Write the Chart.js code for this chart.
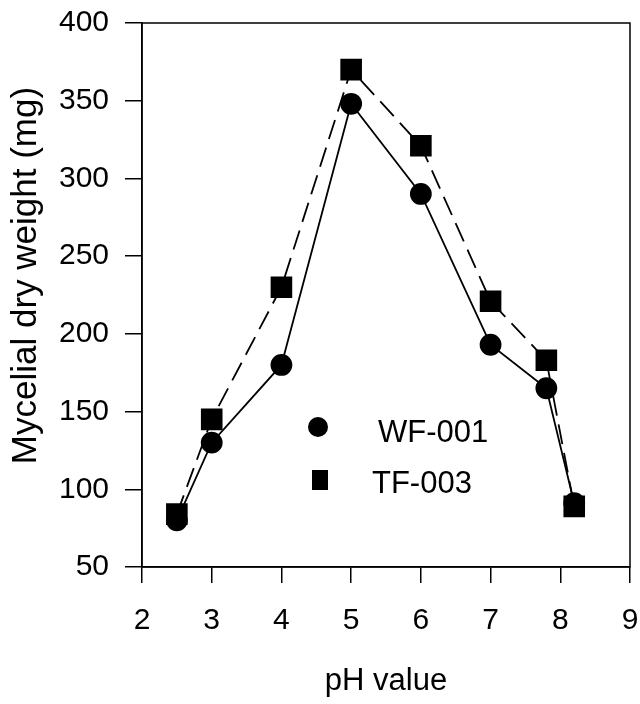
<!DOCTYPE html>
<html>
<head>
<meta charset="utf-8">
<script src="https://cdn.jsdelivr.net/npm/chart.js@4"></script>
<style>
  html, body { margin: 0; padding: 0; background: #fff; }
  #wrap { width: 640px; height: 704px; }
</style>
</head>
<body>
<div id="wrap"><canvas id="chart" width="640" height="704"></canvas></div>
<script>
// pH values and mycelial dry weight (mg)
const phWF = [2.5, 3, 4, 5, 6, 7, 7.8, 8.2];
const weightWF = [80, 130, 180, 348, 290, 193, 165, 91];
const phTF = [2.5, 3, 4, 5, 6, 7, 7.8, 8.2];
const weightTF = [84, 145, 230, 370, 321, 221, 183, 89];
const seriesNames = ['WF-001', 'TF-003'];

const FONT = 'Liberation Sans, Arial, sans-serif';

function toPoints(xs, ys) {
    return xs.map((x, i) => ({ x: x, y: ys[i] }));
}

// Box around plot area plus the in-plot legend
const framePlugin = {
    id: 'frame',
    afterDraw(chart) {
        const ctx = chart.ctx;
        const a = chart.chartArea;
        ctx.save();
        ctx.strokeStyle = '#000';
        ctx.lineWidth = 1.5;
        ctx.strokeRect(a.left, a.top, a.right - a.left, a.bottom - a.top);

        // legend
        ctx.fillStyle = '#000';
        ctx.font = '31px ' + FONT;
        ctx.textBaseline = 'middle';
        ctx.beginPath();
        ctx.arc(a.left + 176, a.top + 404, 10, 0, Math.PI * 2);
        ctx.fill();
        ctx.fillText(seriesNames[0], a.left + 236, a.top + 410);
        ctx.fillRect(a.left + 170, a.top + 447, 16, 20);
        ctx.fillText(seriesNames[1], a.left + 230, a.top + 461);
        ctx.restore();
    }
};

const ctx = document.getElementById('chart').getContext('2d');
new Chart(ctx, {
    type: 'scatter',
    data: {
        datasets: [
            {
                label: seriesNames[0],
                data: toPoints(phWF, weightWF),
                showLine: true,
                borderColor: '#000',
                backgroundColor: '#000',
                borderWidth: 1.8,
                pointStyle: 'circle',
                pointRadius: 10,
                pointHoverRadius: 10
            },
            {
                label: seriesNames[1],
                data: toPoints(phTF, weightTF),
                showLine: true,
                borderColor: '#000',
                backgroundColor: '#000',
                borderWidth: 1.8,
                borderDash: [20, 9],
                pointStyle: 'rect',
                pointRadius: 14,
                pointHoverRadius: 14
            }
        ]
    },
    options: {
        responsive: false,
        animation: false,
        layout: { autoPadding: false, padding: { top: 23, right: 10, left: 0, bottom: 0 } },
        plugins: {
            legend: { display: false },
            tooltip: { enabled: false }
        },
        scales: {
            x: {
                type: 'linear',
                min: 2,
                max: 9,
                afterFit(scale) {
                    scale.height = 137;
                    scale.paddingLeft = 0;
                    scale.paddingRight = 0;
                },
                ticks: {
                    stepSize: 1,
                    color: '#000',
                    padding: 20,
                    font: { family: FONT, size: 30 }
                },
                grid: {
                    drawOnChartArea: false,
                    drawTicks: true,
                    tickLength: 16,
                    color: '#000',
                    lineWidth: 1.5
                },
                border: { display: true, color: '#000', width: 1.5 },
                title: {
                    display: true,
                    text: 'pH value',
                    color: '#000',
                    padding: { top: 29 },
                    font: { family: FONT, size: 31 }
                }
            },
            y: {
                min: 50,
                max: 400,
                afterFit(scale) {
                    scale.width = 142;
                    scale.paddingTop = 0;
                    scale.paddingBottom = 0;
                },
                ticks: {
                    stepSize: 50,
                    color: '#000',
                    padding: 16,
                    font: { family: FONT, size: 30 }
                },
                grid: {
                    drawOnChartArea: false,
                    drawTicks: true,
                    tickLength: 17,
                    color: '#000',
                    lineWidth: 1.5
                },
                border: { display: true, color: '#000', width: 1.5 },
                title: {
                    display: true,
                    text: '    Mycelial dry weight (mg)',
                    color: '#000',
                    padding: { top: 5, bottom: 0 },
                    font: { family: FONT, size: 35 }
                }
            }
        }
    },
    plugins: [framePlugin]
});
</script>
</body>
</html>
